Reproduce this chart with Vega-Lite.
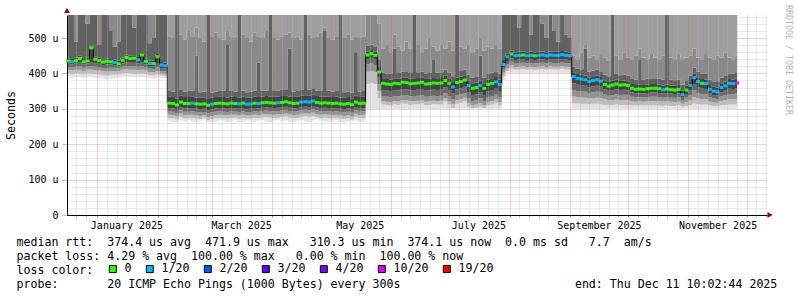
{
"$schema":"https://vega.github.io/schema/vega-lite/v6.json",
"width":700,"height":200,
"autosize":"none",
"padding":{"left":67,"top":15,"right":30,"bottom":82},
"background":"white",
"title":{"text":"RRDTOOL / TOBI OETIKER","orient":"right","anchor":"start","frame":"group","font":"DejaVu Sans Mono","fontSize":8.3,"fontWeight":"normal","color":"#b4b4b4","offset":8,"dx":-10},
"config":{"view":{"stroke":null},
 "axisY":{"zindex":1,"labelFont":"DejaVu Sans Mono","labelFontSize":10,"labelColor":"black","labelPadding":4,"labelOverlap":false,"labelBound":false,
    "grid":true,"gridDash":[1,1],"gridOpacity":0.6,"ticks":true,"tickSize":5,"tickDash":[1,1],
    "domainColor":"black","domainWidth":1,"titleFont":"DejaVu Sans Mono","titleFontSize":11.6,"titleFontWeight":"normal","titleColor":"black"}},
"datasets":{"rtt":[
{"t":"2024-12-17","m":435,"l":"0","e":389,"d":399,"c":409,"b":418,"a":427,"u":443,"v":565,"w":565},
{"t":"2024-12-19","m":433,"l":"1/20","e":388,"d":398,"c":408,"b":417,"a":425,"u":441,"v":565,"w":565},
{"t":"2024-12-21","m":436,"l":"0","e":390,"d":400,"c":410,"b":419,"a":428,"u":444,"v":490,"w":565},
{"t":"2024-12-23","m":442,"l":"0","e":389,"d":399,"c":410,"b":420,"a":430,"u":450,"v":565,"w":565},
{"t":"2024-12-25","m":433,"l":"0","e":387,"d":397,"c":407,"b":416,"a":425,"u":441,"v":565,"w":565},
{"t":"2024-12-27","m":436,"l":"0","e":390,"d":400,"c":410,"b":419,"a":428,"u":444,"v":540,"w":565},
{"t":"2024-12-29","m":472,"l":"0","e":389,"d":399,"c":410,"b":420,"a":430,"u":478,"v":565,"w":565},
{"t":"2024-12-31","m":440,"l":"0","e":388,"d":398,"c":409,"b":419,"a":429,"u":448,"v":565,"w":565},
{"t":"2025-01-02","m":436,"l":"0","e":386,"d":397,"c":408,"b":418,"a":427,"u":444,"v":480,"w":565},
{"t":"2025-01-04","m":432,"l":"0","e":384,"d":395,"c":406,"b":415,"a":424,"u":440,"v":565,"w":565},
{"t":"2025-01-06","m":434,"l":"0","e":383,"d":394,"c":405,"b":415,"a":425,"u":442,"v":565,"w":565},
{"t":"2025-01-08","m":433,"l":"0","e":385,"d":396,"c":406,"b":416,"a":425,"u":441,"v":520,"w":565},
{"t":"2025-01-10","m":431,"l":"1/20","e":387,"d":397,"c":407,"b":416,"a":424,"u":439,"v":475,"w":565},
{"t":"2025-01-12","m":427,"l":"0","e":388,"d":397,"c":406,"b":414,"a":420,"u":436,"v":490,"w":565},
{"t":"2025-01-14","m":437,"l":"0","e":390,"d":400,"c":410,"b":419,"a":428,"u":445,"v":565,"w":565},
{"t":"2025-01-16","m":445,"l":"0","e":391,"d":401,"c":411,"b":421,"a":431,"u":453,"v":565,"w":565},
{"t":"2025-01-18","m":442,"l":"0","e":390,"d":400,"c":410,"b":420,"a":430,"u":450,"v":565,"w":565},
{"t":"2025-01-20","m":443,"l":"0","e":389,"d":399,"c":410,"b":420,"a":430,"u":451,"v":530,"w":565},
{"t":"2025-01-22","m":438,"l":"1/20","e":389,"d":399,"c":409,"b":419,"a":428,"u":446,"v":565,"w":565},
{"t":"2025-01-24","m":452,"l":"0","e":390,"d":400,"c":410,"b":420,"a":430,"u":460,"v":565,"w":565},
{"t":"2025-01-26","m":434,"l":"0","e":388,"d":398,"c":408,"b":417,"a":426,"u":442,"v":565,"w":565},
{"t":"2025-01-28","m":428,"l":"1/20","e":386,"d":395,"c":404,"b":413,"a":421,"u":436,"v":485,"w":565},
{"t":"2025-01-30","m":428,"l":"0","e":385,"d":394,"c":403,"b":412,"a":420,"u":436,"v":500,"w":565},
{"t":"2025-02-01","m":447,"l":"0","e":388,"d":397,"c":407,"b":417,"a":427,"u":455,"v":565,"w":565},
{"t":"2025-02-03","m":424,"l":"1/20","e":388,"d":394,"c":400,"b":407,"a":415,"u":432,"v":565,"w":565},
{"t":"2025-02-05","m":422,"l":"1/20","e":387,"d":393,"c":399,"b":406,"a":414,"u":430,"v":565,"w":565},
{"t":"2025-02-07","m":316,"l":"0","e":266,"d":274,"c":283,"b":293,"a":302,"u":334,"v":350,"w":505},
{"t":"2025-02-09","m":315,"l":"0","e":263,"d":273,"c":282,"b":292,"a":301,"u":333,"v":349,"w":500},
{"t":"2025-02-11","m":311,"l":"0","e":262,"d":270,"c":279,"b":288,"a":297,"u":329,"v":565,"w":565},
{"t":"2025-02-13","m":319,"l":"0","e":267,"d":277,"c":286,"b":296,"a":305,"u":337,"v":353,"w":510},
{"t":"2025-02-15","m":315,"l":"0","e":265,"d":273,"c":282,"b":292,"a":301,"u":333,"v":348,"w":495},
{"t":"2025-02-17","m":315,"l":"0","e":268,"d":274,"c":283,"b":292,"a":301,"u":333,"v":350,"w":520},
{"t":"2025-02-19","m":316,"l":"1/20","e":264,"d":274,"c":283,"b":293,"a":302,"u":334,"v":351,"w":505},
{"t":"2025-02-21","m":314,"l":"0","e":262,"d":272,"c":281,"b":291,"a":300,"u":332,"v":450,"w":530},
{"t":"2025-02-23","m":313,"l":"0","e":266,"d":271,"c":280,"b":290,"a":299,"u":331,"v":347,"w":500},
{"t":"2025-02-25","m":314,"l":"0","e":270,"d":275,"c":282,"b":291,"a":300,"u":332,"v":348,"w":490},
{"t":"2025-02-27","m":310,"l":"0","e":263,"d":268,"c":277,"b":287,"a":296,"u":328,"v":565,"w":565},
{"t":"2025-03-01","m":313,"l":"1/20","e":261,"d":271,"c":280,"b":290,"a":299,"u":331,"v":346,"w":505},
{"t":"2025-03-03","m":315,"l":"0","e":264,"d":273,"c":282,"b":292,"a":301,"u":333,"v":349,"w":515},
{"t":"2025-03-05","m":316,"l":"0","e":268,"d":274,"c":283,"b":293,"a":302,"u":334,"v":350,"w":500},
{"t":"2025-03-07","m":315,"l":"0","e":266,"d":273,"c":282,"b":292,"a":301,"u":333,"v":352,"w":495},
{"t":"2025-03-09","m":314,"l":"0","e":263,"d":272,"c":281,"b":291,"a":300,"u":332,"v":480,"w":520},
{"t":"2025-03-11","m":316,"l":"0","e":265,"d":274,"c":283,"b":293,"a":302,"u":334,"v":350,"w":505},
{"t":"2025-03-13","m":315,"l":"0","e":269,"d":275,"c":283,"b":292,"a":301,"u":333,"v":349,"w":500},
{"t":"2025-03-15","m":314,"l":"1/20","e":262,"d":272,"c":281,"b":291,"a":300,"u":332,"v":565,"w":565},
{"t":"2025-03-17","m":316,"l":"0","e":264,"d":274,"c":283,"b":293,"a":302,"u":334,"v":351,"w":510},
{"t":"2025-03-19","m":313,"l":"1/20","e":267,"d":272,"c":281,"b":290,"a":299,"u":331,"v":347,"w":500},
{"t":"2025-03-21","m":314,"l":"1/20","e":265,"d":272,"c":281,"b":291,"a":300,"u":332,"v":348,"w":490},
{"t":"2025-03-23","m":316,"l":"0","e":263,"d":274,"c":283,"b":293,"a":302,"u":334,"v":352,"w":515},
{"t":"2025-03-25","m":315,"l":"1/20","e":266,"d":273,"c":282,"b":292,"a":301,"u":333,"v":430,"w":505},
{"t":"2025-03-27","m":317,"l":"0","e":268,"d":275,"c":284,"b":294,"a":303,"u":335,"v":351,"w":500},
{"t":"2025-03-29","m":318,"l":"0","e":264,"d":276,"c":285,"b":295,"a":304,"u":336,"v":352,"w":520},
{"t":"2025-03-31","m":317,"l":"0","e":262,"d":275,"c":284,"b":294,"a":303,"u":335,"v":565,"w":565},
{"t":"2025-04-02","m":316,"l":"0","e":266,"d":274,"c":283,"b":293,"a":302,"u":334,"v":350,"w":500},
{"t":"2025-04-04","m":317,"l":"1/20","e":269,"d":275,"c":284,"b":294,"a":303,"u":335,"v":351,"w":495},
{"t":"2025-04-06","m":318,"l":"0","e":265,"d":276,"c":285,"b":295,"a":304,"u":336,"v":353,"w":505},
{"t":"2025-04-08","m":320,"l":"0","e":267,"d":278,"c":287,"b":297,"a":306,"u":338,"v":355,"w":510},
{"t":"2025-04-10","m":317,"l":"0","e":264,"d":275,"c":284,"b":294,"a":303,"u":335,"v":470,"w":515},
{"t":"2025-04-12","m":315,"l":"0","e":262,"d":273,"c":282,"b":292,"a":301,"u":333,"v":349,"w":500},
{"t":"2025-04-14","m":316,"l":"0","e":266,"d":274,"c":283,"b":293,"a":302,"u":334,"v":350,"w":505},
{"t":"2025-04-16","m":319,"l":"1/20","e":268,"d":277,"c":286,"b":296,"a":305,"u":337,"v":353,"w":495},
{"t":"2025-04-18","m":320,"l":"1/20","e":265,"d":278,"c":287,"b":297,"a":306,"u":338,"v":565,"w":565},
{"t":"2025-04-20","m":319,"l":"1/20","e":263,"d":277,"c":286,"b":296,"a":305,"u":337,"v":354,"w":510},
{"t":"2025-04-22","m":322,"l":"1/20","e":267,"d":280,"c":289,"b":299,"a":308,"u":340,"v":356,"w":500},
{"t":"2025-04-24","m":318,"l":"0","e":270,"d":276,"c":285,"b":295,"a":304,"u":336,"v":352,"w":505},
{"t":"2025-04-26","m":316,"l":"0","e":266,"d":274,"c":283,"b":293,"a":302,"u":334,"v":350,"w":515},
{"t":"2025-04-28","m":317,"l":"0","e":264,"d":275,"c":284,"b":294,"a":303,"u":335,"v":520,"w":530},
{"t":"2025-04-30","m":316,"l":"0","e":262,"d":274,"c":283,"b":293,"a":302,"u":334,"v":351,"w":500},
{"t":"2025-05-02","m":315,"l":"0","e":265,"d":273,"c":282,"b":292,"a":301,"u":333,"v":349,"w":495},
{"t":"2025-05-04","m":316,"l":"0","e":268,"d":274,"c":283,"b":293,"a":302,"u":334,"v":350,"w":505},
{"t":"2025-05-06","m":314,"l":"0","e":263,"d":272,"c":281,"b":291,"a":300,"u":332,"v":565,"w":565},
{"t":"2025-05-08","m":313,"l":"0","e":261,"d":271,"c":280,"b":290,"a":299,"u":331,"v":347,"w":500},
{"t":"2025-05-10","m":315,"l":"0","e":264,"d":273,"c":282,"b":292,"a":301,"u":333,"v":349,"w":510},
{"t":"2025-05-12","m":312,"l":"0","e":266,"d":270,"c":279,"b":289,"a":298,"u":330,"v":346,"w":495},
{"t":"2025-05-14","m":319,"l":"0","e":267,"d":277,"c":286,"b":296,"a":305,"u":337,"v":460,"w":505},
{"t":"2025-05-16","m":315,"l":"0","e":263,"d":273,"c":282,"b":292,"a":301,"u":333,"v":349,"w":500},
{"t":"2025-05-18","m":316,"l":"0","e":265,"d":274,"c":283,"b":293,"a":302,"u":334,"v":350,"w":505},
{"t":"2025-05-20","m":452,"l":"0","e":298,"d":370,"c":405,"b":425,"a":440,"u":462,"v":478,"w":565},
{"t":"2025-05-22","m":456,"l":"0","e":299,"d":372,"c":407,"b":428,"a":444,"u":466,"v":482,"w":565},
{"t":"2025-05-24","m":451,"l":"0","e":298,"d":370,"c":404,"b":424,"a":439,"u":461,"v":477,"w":565},
{"t":"2025-05-26","m":404,"l":"0","e":297,"d":330,"c":350,"b":370,"a":388,"u":420,"v":440,"w":540},
{"t":"2025-05-28","m":372,"l":"0","e":298,"d":312,"c":322,"b":336,"a":353,"u":386,"v":402,"w":470},
{"t":"2025-05-30","m":370,"l":"0","e":297,"d":310,"c":320,"b":334,"a":351,"u":384,"v":400,"w":480},
{"t":"2025-06-01","m":369,"l":"0","e":299,"d":309,"c":319,"b":333,"a":350,"u":383,"v":399,"w":460},
{"t":"2025-06-03","m":372,"l":"0","e":298,"d":312,"c":322,"b":336,"a":353,"u":386,"v":470,"w":510},
{"t":"2025-06-05","m":371,"l":"0","e":296,"d":311,"c":321,"b":335,"a":352,"u":385,"v":401,"w":475},
{"t":"2025-06-07","m":375,"l":"0","e":298,"d":315,"c":325,"b":339,"a":356,"u":389,"v":405,"w":465},
{"t":"2025-06-09","m":374,"l":"0","e":300,"d":314,"c":324,"b":338,"a":355,"u":388,"v":404,"w":490},
{"t":"2025-06-11","m":371,"l":"0","e":298,"d":311,"c":321,"b":335,"a":352,"u":385,"v":401,"w":470},
{"t":"2025-06-13","m":372,"l":"0","e":297,"d":312,"c":322,"b":336,"a":353,"u":386,"v":565,"w":565},
{"t":"2025-06-15","m":373,"l":"0","e":299,"d":313,"c":323,"b":337,"a":354,"u":387,"v":403,"w":480},
{"t":"2025-06-17","m":375,"l":"0","e":298,"d":315,"c":325,"b":339,"a":356,"u":389,"v":405,"w":460},
{"t":"2025-06-19","m":370,"l":"0","e":296,"d":310,"c":320,"b":334,"a":351,"u":384,"v":400,"w":470},
{"t":"2025-06-21","m":371,"l":"0","e":298,"d":311,"c":321,"b":335,"a":352,"u":385,"v":401,"w":500},
{"t":"2025-06-23","m":373,"l":"0","e":299,"d":313,"c":323,"b":337,"a":354,"u":387,"v":440,"w":475},
{"t":"2025-06-25","m":372,"l":"0","e":297,"d":312,"c":322,"b":336,"a":353,"u":386,"v":402,"w":465},
{"t":"2025-06-27","m":373,"l":"0","e":298,"d":313,"c":323,"b":337,"a":354,"u":387,"v":403,"w":480},
{"t":"2025-06-29","m":380,"l":"0","e":299,"d":320,"c":330,"b":344,"a":361,"u":394,"v":410,"w":470},
{"t":"2025-07-01","m":372,"l":"0","e":298,"d":312,"c":322,"b":336,"a":353,"u":386,"v":402,"w":490},
{"t":"2025-07-03","m":362,"l":"1/20","e":296,"d":302,"c":312,"b":326,"a":343,"u":376,"v":392,"w":465},
{"t":"2025-07-05","m":374,"l":"0","e":298,"d":314,"c":324,"b":338,"a":355,"u":388,"v":565,"w":565},
{"t":"2025-07-07","m":377,"l":"0","e":299,"d":317,"c":327,"b":341,"a":358,"u":391,"v":407,"w":475},
{"t":"2025-07-09","m":381,"l":"0","e":300,"d":321,"c":331,"b":345,"a":362,"u":395,"v":411,"w":470},
{"t":"2025-07-11","m":366,"l":"1/20","e":298,"d":306,"c":316,"b":330,"a":347,"u":380,"v":396,"w":480},
{"t":"2025-07-13","m":358,"l":"0","e":297,"d":302,"c":310,"b":322,"a":339,"u":372,"v":388,"w":460},
{"t":"2025-07-15","m":360,"l":"0","e":298,"d":303,"c":312,"b":324,"a":341,"u":374,"v":390,"w":470},
{"t":"2025-07-17","m":366,"l":"1/20","e":297,"d":306,"c":316,"b":330,"a":347,"u":380,"v":450,"w":500},
{"t":"2025-07-19","m":358,"l":"0","e":296,"d":302,"c":310,"b":322,"a":339,"u":372,"v":388,"w":465},
{"t":"2025-07-21","m":369,"l":"0","e":298,"d":309,"c":319,"b":333,"a":350,"u":383,"v":399,"w":475},
{"t":"2025-07-23","m":372,"l":"0","e":299,"d":312,"c":322,"b":336,"a":353,"u":386,"v":402,"w":470},
{"t":"2025-07-25","m":376,"l":"1/20","e":298,"d":316,"c":326,"b":340,"a":357,"u":390,"v":406,"w":480},
{"t":"2025-07-27","m":369,"l":"1/20","e":297,"d":309,"c":319,"b":333,"a":350,"u":383,"v":399,"w":470},
{"t":"2025-07-29","m":425,"l":"1/20","e":380,"d":392,"c":402,"b":410,"a":416,"u":440,"v":565,"w":565},
{"t":"2025-07-31","m":447,"l":"1/20","e":401,"d":407,"c":415,"b":425,"a":435,"u":457,"v":565,"w":565},
{"t":"2025-08-02","m":455,"l":"0","e":402,"d":414,"c":423,"b":433,"a":443,"u":465,"v":565,"w":565},
{"t":"2025-08-04","m":450,"l":"1/20","e":400,"d":410,"c":418,"b":428,"a":438,"u":460,"v":565,"w":565},
{"t":"2025-08-06","m":451,"l":"1/20","e":401,"d":411,"c":419,"b":429,"a":439,"u":461,"v":530,"w":565},
{"t":"2025-08-08","m":452,"l":"0","e":402,"d":412,"c":420,"b":430,"a":440,"u":462,"v":565,"w":565},
{"t":"2025-08-10","m":450,"l":"1/20","e":401,"d":410,"c":418,"b":428,"a":438,"u":460,"v":565,"w":565},
{"t":"2025-08-12","m":451,"l":"1/20","e":400,"d":411,"c":419,"b":429,"a":439,"u":461,"v":510,"w":565},
{"t":"2025-08-14","m":450,"l":"0","e":401,"d":410,"c":418,"b":428,"a":438,"u":460,"v":565,"w":565},
{"t":"2025-08-16","m":451,"l":"1/20","e":402,"d":411,"c":419,"b":429,"a":439,"u":461,"v":565,"w":565},
{"t":"2025-08-18","m":452,"l":"1/20","e":401,"d":412,"c":420,"b":430,"a":440,"u":462,"v":540,"w":565},
{"t":"2025-08-20","m":450,"l":"1/20","e":400,"d":410,"c":418,"b":428,"a":438,"u":460,"v":500,"w":565},
{"t":"2025-08-22","m":452,"l":"1/20","e":401,"d":412,"c":420,"b":430,"a":440,"u":462,"v":565,"w":565},
{"t":"2025-08-24","m":451,"l":"1/20","e":402,"d":411,"c":419,"b":429,"a":439,"u":461,"v":520,"w":565},
{"t":"2025-08-26","m":451,"l":"1/20","e":401,"d":411,"c":419,"b":429,"a":439,"u":461,"v":490,"w":565},
{"t":"2025-08-28","m":453,"l":"1/20","e":400,"d":413,"c":421,"b":431,"a":441,"u":463,"v":565,"w":565},
{"t":"2025-08-30","m":451,"l":"1/20","e":401,"d":411,"c":419,"b":429,"a":439,"u":461,"v":510,"w":565},
{"t":"2025-09-01","m":450,"l":"1/20","e":401,"d":410,"c":418,"b":428,"a":438,"u":460,"v":500,"w":565},
{"t":"2025-09-03","m":391,"l":"1/20","e":297,"d":316,"c":335,"b":353,"a":372,"u":403,"v":419,"w":450},
{"t":"2025-09-05","m":386,"l":"1/20","e":298,"d":315,"c":333,"b":350,"a":368,"u":398,"v":414,"w":440},
{"t":"2025-09-07","m":384,"l":"1/20","e":296,"d":314,"c":332,"b":349,"a":367,"u":396,"v":412,"w":460},
{"t":"2025-09-09","m":382,"l":"1/20","e":297,"d":314,"c":331,"b":348,"a":365,"u":394,"v":470,"w":480},
{"t":"2025-09-11","m":377,"l":"1/20","e":298,"d":313,"c":329,"b":345,"a":361,"u":389,"v":405,"w":445},
{"t":"2025-09-13","m":380,"l":"1/20","e":297,"d":314,"c":330,"b":347,"a":363,"u":392,"v":408,"w":450},
{"t":"2025-09-15","m":382,"l":"1/20","e":296,"d":314,"c":331,"b":348,"a":365,"u":394,"v":410,"w":440},
{"t":"2025-09-17","m":378,"l":"1/20","e":298,"d":313,"c":329,"b":346,"a":362,"u":390,"v":406,"w":455},
{"t":"2025-09-19","m":369,"l":"0","e":297,"d":311,"c":326,"b":340,"a":355,"u":381,"v":397,"w":445},
{"t":"2025-09-21","m":364,"l":"0","e":297,"d":310,"c":324,"b":337,"a":351,"u":376,"v":392,"w":435},
{"t":"2025-09-23","m":367,"l":"0","e":298,"d":311,"c":325,"b":339,"a":353,"u":379,"v":565,"w":565},
{"t":"2025-09-25","m":370,"l":"0","e":297,"d":312,"c":326,"b":341,"a":355,"u":382,"v":398,"w":450},
{"t":"2025-09-27","m":367,"l":"0","e":296,"d":311,"c":325,"b":339,"a":353,"u":379,"v":395,"w":440},
{"t":"2025-09-29","m":368,"l":"0","e":297,"d":311,"c":325,"b":340,"a":354,"u":380,"v":396,"w":460},
{"t":"2025-10-01","m":366,"l":"0","e":297,"d":311,"c":325,"b":338,"a":352,"u":378,"v":394,"w":445},
{"t":"2025-10-03","m":358,"l":"0","e":298,"d":309,"c":321,"b":334,"a":346,"u":370,"v":386,"w":440},
{"t":"2025-10-05","m":355,"l":"0","e":297,"d":309,"c":320,"b":332,"a":343,"u":367,"v":383,"w":450},
{"t":"2025-10-07","m":356,"l":"0","e":297,"d":309,"c":321,"b":332,"a":344,"u":368,"v":440,"w":470},
{"t":"2025-10-09","m":355,"l":"0","e":296,"d":309,"c":320,"b":332,"a":343,"u":367,"v":383,"w":445},
{"t":"2025-10-11","m":357,"l":"0","e":297,"d":309,"c":321,"b":333,"a":345,"u":369,"v":385,"w":440},
{"t":"2025-10-13","m":358,"l":"0","e":298,"d":309,"c":321,"b":334,"a":346,"u":370,"v":386,"w":455},
{"t":"2025-10-15","m":358,"l":"0","e":297,"d":309,"c":321,"b":334,"a":346,"u":370,"v":386,"w":445},
{"t":"2025-10-17","m":357,"l":"0","e":297,"d":309,"c":321,"b":333,"a":345,"u":369,"v":385,"w":440},
{"t":"2025-10-19","m":354,"l":"1/20","e":297,"d":308,"c":320,"b":331,"a":343,"u":366,"v":382,"w":450},
{"t":"2025-10-21","m":356,"l":"0","e":298,"d":309,"c":321,"b":332,"a":344,"u":368,"v":565,"w":565},
{"t":"2025-10-23","m":354,"l":"0","e":297,"d":308,"c":320,"b":331,"a":343,"u":366,"v":382,"w":445},
{"t":"2025-10-25","m":353,"l":"0","e":296,"d":308,"c":319,"b":331,"a":342,"u":365,"v":381,"w":440},
{"t":"2025-10-27","m":355,"l":"0","e":297,"d":309,"c":320,"b":332,"a":343,"u":367,"v":383,"w":455},
{"t":"2025-10-29","m":340,"l":"1/20","e":297,"d":306,"c":314,"b":323,"a":331,"u":352,"v":368,"w":440},
{"t":"2025-10-31","m":353,"l":"0","e":297,"d":308,"c":319,"b":331,"a":342,"u":365,"v":381,"w":445},
{"t":"2025-11-02","m":366,"l":"1/20","e":297,"d":311,"c":325,"b":338,"a":352,"u":378,"v":394,"w":450},
{"t":"2025-11-04","m":388,"l":"1/20","e":298,"d":315,"c":333,"b":352,"a":370,"u":400,"v":416,"w":470},
{"t":"2025-11-06","m":377,"l":"1/20","e":297,"d":313,"c":329,"b":345,"a":361,"u":389,"v":405,"w":445},
{"t":"2025-11-08","m":372,"l":"0","e":297,"d":312,"c":327,"b":342,"a":357,"u":384,"v":400,"w":440},
{"t":"2025-11-10","m":371,"l":"1/20","e":296,"d":312,"c":327,"b":341,"a":356,"u":383,"v":399,"w":455},
{"t":"2025-11-12","m":355,"l":"1/20","e":297,"d":309,"c":320,"b":332,"a":343,"u":367,"v":383,"w":445},
{"t":"2025-11-14","m":350,"l":"1/20","e":297,"d":308,"c":318,"b":329,"a":339,"u":362,"v":378,"w":440},
{"t":"2025-11-16","m":348,"l":"1/20","e":297,"d":307,"c":317,"b":328,"a":338,"u":360,"v":376,"w":450},
{"t":"2025-11-18","m":360,"l":"1/20","e":297,"d":310,"c":322,"b":335,"a":347,"u":372,"v":388,"w":445},
{"t":"2025-11-20","m":365,"l":"1/20","e":297,"d":311,"c":324,"b":338,"a":351,"u":377,"v":393,"w":460},
{"t":"2025-11-22","m":372,"l":"1/20","e":298,"d":312,"c":327,"b":342,"a":357,"u":384,"v":400,"w":445},
{"t":"2025-11-24","m":371,"l":"1/20","e":297,"d":312,"c":327,"b":341,"a":356,"u":383,"v":399,"w":440},
{"t":"2025-11-26","m":373,"l":"10/20","e":297,"d":312,"c":327,"b":343,"a":358,"u":385,"v":401,"w":450}
]},
"data":{"name":"rtt"},
"encoding":{
 "x":{"field":"t","type":"temporal",
  "scale":{"type":"utc","nice":false,"domain":[{"year":2024,"month":12,"date":16,"hours":10,"minutes":2,"utc":true},{"year":2025,"month":12,"date":11,"hours":10,"minutes":2,"utc":true}]},
  "axis":{"orient":"bottom","zindex":1,
   "values":[
    {"year":2024,"month":12,"date":21,"utc":true},{"year":2024,"month":12,"date":26,"utc":true},
    {"year":2025,"month":1,"date":1,"utc":true},{"year":2025,"month":1,"date":6,"utc":true},{"year":2025,"month":1,"date":11,"utc":true},{"year":2025,"month":1,"date":16,"utc":true},{"year":2025,"month":1,"date":21,"utc":true},{"year":2025,"month":1,"date":26,"utc":true},
    {"year":2025,"month":2,"date":1,"utc":true},{"year":2025,"month":2,"date":6,"utc":true},{"year":2025,"month":2,"date":11,"utc":true},{"year":2025,"month":2,"date":16,"utc":true},{"year":2025,"month":2,"date":21,"utc":true},{"year":2025,"month":2,"date":26,"utc":true},
    {"year":2025,"month":3,"date":1,"utc":true},{"year":2025,"month":3,"date":6,"utc":true},{"year":2025,"month":3,"date":11,"utc":true},{"year":2025,"month":3,"date":16,"utc":true},{"year":2025,"month":3,"date":21,"utc":true},{"year":2025,"month":3,"date":26,"utc":true},
    {"year":2025,"month":4,"date":1,"utc":true},{"year":2025,"month":4,"date":6,"utc":true},{"year":2025,"month":4,"date":11,"utc":true},{"year":2025,"month":4,"date":16,"utc":true},{"year":2025,"month":4,"date":21,"utc":true},{"year":2025,"month":4,"date":26,"utc":true},
    {"year":2025,"month":5,"date":1,"utc":true},{"year":2025,"month":5,"date":6,"utc":true},{"year":2025,"month":5,"date":11,"utc":true},{"year":2025,"month":5,"date":16,"utc":true},{"year":2025,"month":5,"date":21,"utc":true},{"year":2025,"month":5,"date":26,"utc":true},
    {"year":2025,"month":6,"date":1,"utc":true},{"year":2025,"month":6,"date":6,"utc":true},{"year":2025,"month":6,"date":11,"utc":true},{"year":2025,"month":6,"date":16,"utc":true},{"year":2025,"month":6,"date":21,"utc":true},{"year":2025,"month":6,"date":26,"utc":true},
    {"year":2025,"month":7,"date":1,"utc":true},{"year":2025,"month":7,"date":6,"utc":true},{"year":2025,"month":7,"date":11,"utc":true},{"year":2025,"month":7,"date":16,"utc":true},{"year":2025,"month":7,"date":21,"utc":true},{"year":2025,"month":7,"date":26,"utc":true},
    {"year":2025,"month":8,"date":1,"utc":true},{"year":2025,"month":8,"date":6,"utc":true},{"year":2025,"month":8,"date":11,"utc":true},{"year":2025,"month":8,"date":16,"utc":true},{"year":2025,"month":8,"date":21,"utc":true},{"year":2025,"month":8,"date":26,"utc":true},
    {"year":2025,"month":9,"date":1,"utc":true},{"year":2025,"month":9,"date":6,"utc":true},{"year":2025,"month":9,"date":11,"utc":true},{"year":2025,"month":9,"date":16,"utc":true},{"year":2025,"month":9,"date":21,"utc":true},{"year":2025,"month":9,"date":26,"utc":true},
    {"year":2025,"month":10,"date":1,"utc":true},{"year":2025,"month":10,"date":6,"utc":true},{"year":2025,"month":10,"date":11,"utc":true},{"year":2025,"month":10,"date":16,"utc":true},{"year":2025,"month":10,"date":21,"utc":true},{"year":2025,"month":10,"date":26,"utc":true},
    {"year":2025,"month":11,"date":1,"utc":true},{"year":2025,"month":11,"date":6,"utc":true},{"year":2025,"month":11,"date":11,"utc":true},{"year":2025,"month":11,"date":16,"utc":true},{"year":2025,"month":11,"date":21,"utc":true},{"year":2025,"month":11,"date":26,"utc":true},
    {"year":2025,"month":12,"date":1,"utc":true},{"year":2025,"month":12,"date":6,"utc":true},{"year":2025,"month":12,"date":11,"utc":true}
   ],
   "labelExpr":"utcdate(datum.value) == 16 && utcmonth(datum.value) % 2 == 0 ? utcFormat(datum.value, '%B %Y') : ''",
   "labelFont":"DejaVu Sans Mono","labelFontSize":10,"labelColor":"black","labelPadding":3,"labelOverlap":false,"labelFlush":false,"labelBound":false,
   "grid":true,"gridDash":[1,1],"gridOpacity":0.6,
   "gridColor":{"condition":{"test":"utcdate(datum.value) == 1","value":"#e06060"},"value":"#b8b8b8"},
   "ticks":true,"tickSize":2,
   "tickColor":{"condition":{"test":"utcdate(datum.value) == 1","value":"#e06060"},"value":"#b8b8b8"},
   "domainColor":"black","domainWidth":1,
   "title":[
    "median\u00a0rtt:\u00a0\u00a0374.4\u00a0us\u00a0avg\u00a0\u00a0471.9\u00a0us\u00a0max\u00a0\u00a0\u00a0310.3\u00a0us\u00a0min\u00a0\u00a0374.1\u00a0us\u00a0now\u00a0\u00a00.0\u00a0ms\u00a0sd\u00a0\u00a0\u00a07.7\u00a0\u00a0am/s",
    "packet\u00a0loss:\u00a04.29\u00a0%\u00a0avg\u00a0\u00a0100.00\u00a0%\u00a0max\u00a0\u00a0\u00a00.00\u00a0%\u00a0min\u00a0\u00a0100.00\u00a0%\u00a0now",
    "loss\u00a0color:",
    "probe:\u00a0\u00a0\u00a0\u00a0\u00a0\u00a0\u00a020\u00a0ICMP\u00a0Echo\u00a0Pings\u00a0(1000\u00a0Bytes)\u00a0every\u00a0300s\u00a0\u00a0\u00a0\u00a0\u00a0\u00a0\u00a0\u00a0\u00a0\u00a0\u00a0\u00a0\u00a0\u00a0\u00a0\u00a0\u00a0\u00a0\u00a0\u00a0\u00a0\u00a0\u00a0\u00a0\u00a0end:\u00a0Thu\u00a0Dec\u00a011\u00a010:02:44\u00a02025"
   ],
   "titleX":-51,"titleY":30,"titleAlign":"left","titleAnchor":"start","titleBaseline":"alphabetic","titleAngle":0,
   "titleFont":"DejaVu Sans Mono","titleFontSize":11.6,"titleFontWeight":"normal","titleColor":"black","titleLineHeight":14,"titleLimit":2000
  }
 }
},
"layer":[
 {"mark":{"type":"area","interpolate":"step","color":"#e3e3e3"},
  "encoding":{"y":{"field":"e","type":"quantitative","scale":{"domain":[0,565],"nice":false},"axis":{"values":[0,20,40,60,80,100,120,140,160,180,200,220,240,260,280,300,320,340,360,380,400,420,440,460,480,500,520,540,560],"labelExpr":"datum.value % 100 == 0 ? (datum.value == 0 ? '0\u00a0\u00a0' : datum.value + ' u') : ''","gridColor":{"condition":{"test":"datum.value % 100 == 0","value":"#e06060"},"value":"#b8b8b8"},"tickColor":{"condition":{"test":"datum.value % 100 == 0","value":"#e06060"},"value":"#ffffff"},"title":"Seconds","titleX":-56,"titleY":100,"titleAlign":"center","titleBaseline":"middle"}},"y2":{"field":"d"}}},
 {"mark":{"type":"area","interpolate":"step","color":"#bdbdbd"},
  "encoding":{"y":{"field":"d","type":"quantitative","scale":{"domain":[0,565],"nice":false},"axis":{"values":[0,20,40,60,80,100,120,140,160,180,200,220,240,260,280,300,320,340,360,380,400,420,440,460,480,500,520,540,560],"labelExpr":"datum.value % 100 == 0 ? (datum.value == 0 ? '0\u00a0\u00a0' : datum.value + ' u') : ''","gridColor":{"condition":{"test":"datum.value % 100 == 0","value":"#e06060"},"value":"#b8b8b8"},"tickColor":{"condition":{"test":"datum.value % 100 == 0","value":"#e06060"},"value":"#ffffff"},"title":"Seconds","titleX":-56,"titleY":100,"titleAlign":"center","titleBaseline":"middle"}},"y2":{"field":"c"}}},
 {"mark":{"type":"area","interpolate":"step","color":"#939393"},
  "encoding":{"y":{"field":"c","type":"quantitative","scale":{"domain":[0,565],"nice":false},"axis":{"values":[0,20,40,60,80,100,120,140,160,180,200,220,240,260,280,300,320,340,360,380,400,420,440,460,480,500,520,540,560],"labelExpr":"datum.value % 100 == 0 ? (datum.value == 0 ? '0\u00a0\u00a0' : datum.value + ' u') : ''","gridColor":{"condition":{"test":"datum.value % 100 == 0","value":"#e06060"},"value":"#b8b8b8"},"tickColor":{"condition":{"test":"datum.value % 100 == 0","value":"#e06060"},"value":"#ffffff"},"title":"Seconds","titleX":-56,"titleY":100,"titleAlign":"center","titleBaseline":"middle"}},"y2":{"field":"b"}}},
 {"mark":{"type":"area","interpolate":"step","color":"#6a6a6a"},
  "encoding":{"y":{"field":"b","type":"quantitative","scale":{"domain":[0,565],"nice":false},"axis":{"values":[0,20,40,60,80,100,120,140,160,180,200,220,240,260,280,300,320,340,360,380,400,420,440,460,480,500,520,540,560],"labelExpr":"datum.value % 100 == 0 ? (datum.value == 0 ? '0\u00a0\u00a0' : datum.value + ' u') : ''","gridColor":{"condition":{"test":"datum.value % 100 == 0","value":"#e06060"},"value":"#b8b8b8"},"tickColor":{"condition":{"test":"datum.value % 100 == 0","value":"#e06060"},"value":"#ffffff"},"title":"Seconds","titleX":-56,"titleY":100,"titleAlign":"center","titleBaseline":"middle"}},"y2":{"field":"a"}}},
 {"mark":{"type":"area","interpolate":"step","color":"#454545"},
  "encoding":{"y":{"field":"a","type":"quantitative","scale":{"domain":[0,565],"nice":false},"axis":{"values":[0,20,40,60,80,100,120,140,160,180,200,220,240,260,280,300,320,340,360,380,400,420,440,460,480,500,520,540,560],"labelExpr":"datum.value % 100 == 0 ? (datum.value == 0 ? '0\u00a0\u00a0' : datum.value + ' u') : ''","gridColor":{"condition":{"test":"datum.value % 100 == 0","value":"#e06060"},"value":"#b8b8b8"},"tickColor":{"condition":{"test":"datum.value % 100 == 0","value":"#e06060"},"value":"#ffffff"},"title":"Seconds","titleX":-56,"titleY":100,"titleAlign":"center","titleBaseline":"middle"}},"y2":{"field":"u"}}},
 {"mark":{"type":"area","interpolate":"step","color":"#626262"},
  "encoding":{"y":{"field":"u","type":"quantitative","scale":{"domain":[0,565],"nice":false},"axis":{"values":[0,20,40,60,80,100,120,140,160,180,200,220,240,260,280,300,320,340,360,380,400,420,440,460,480,500,520,540,560],"labelExpr":"datum.value % 100 == 0 ? (datum.value == 0 ? '0\u00a0\u00a0' : datum.value + ' u') : ''","gridColor":{"condition":{"test":"datum.value % 100 == 0","value":"#e06060"},"value":"#b8b8b8"},"tickColor":{"condition":{"test":"datum.value % 100 == 0","value":"#e06060"},"value":"#ffffff"},"title":"Seconds","titleX":-56,"titleY":100,"titleAlign":"center","titleBaseline":"middle"}},"y2":{"field":"v"}}},
 {"mark":{"type":"area","interpolate":"step","color":"#8a8a8a"},
  "encoding":{"y":{"field":"v","type":"quantitative","scale":{"domain":[0,565],"nice":false},"axis":{"values":[0,20,40,60,80,100,120,140,160,180,200,220,240,260,280,300,320,340,360,380,400,420,440,460,480,500,520,540,560],"labelExpr":"datum.value % 100 == 0 ? (datum.value == 0 ? '0\u00a0\u00a0' : datum.value + ' u') : ''","gridColor":{"condition":{"test":"datum.value % 100 == 0","value":"#e06060"},"value":"#b8b8b8"},"tickColor":{"condition":{"test":"datum.value % 100 == 0","value":"#e06060"},"value":"#ffffff"},"title":"Seconds","titleX":-56,"titleY":100,"titleAlign":"center","titleBaseline":"middle"}},"y2":{"field":"w"}}},
 {"mark":{"type":"area","interpolate":"step","color":"#9e9e9e"},
  "encoding":{"y":{"field":"w","type":"quantitative","scale":{"domain":[0,565],"nice":false},"axis":{"values":[0,20,40,60,80,100,120,140,160,180,200,220,240,260,280,300,320,340,360,380,400,420,440,460,480,500,520,540,560],"labelExpr":"datum.value % 100 == 0 ? (datum.value == 0 ? '0\u00a0\u00a0' : datum.value + ' u') : ''","gridColor":{"condition":{"test":"datum.value % 100 == 0","value":"#e06060"},"value":"#b8b8b8"},"tickColor":{"condition":{"test":"datum.value % 100 == 0","value":"#e06060"},"value":"#ffffff"},"title":"Seconds","titleX":-56,"titleY":100,"titleAlign":"center","titleBaseline":"middle"}},"y2":{"datum":565}}},
 {"mark":{"type":"line","interpolate":"step","color":"black","strokeWidth":1},
  "encoding":{"y":{"field":"m","type":"quantitative","scale":{"domain":[0,565],"nice":false},"axis":{"values":[0,20,40,60,80,100,120,140,160,180,200,220,240,260,280,300,320,340,360,380,400,420,440,460,480,500,520,540,560],"labelExpr":"datum.value % 100 == 0 ? (datum.value == 0 ? '0\u00a0\u00a0' : datum.value + ' u') : ''","gridColor":{"condition":{"test":"datum.value % 100 == 0","value":"#e06060"},"value":"#b8b8b8"},"tickColor":{"condition":{"test":"datum.value % 100 == 0","value":"#e06060"},"value":"#ffffff"},"title":"Seconds","titleX":-56,"titleY":100,"titleAlign":"center","titleBaseline":"middle"}}}},
 {"mark":{"type":"tick","orient":"horizontal","size":4.2,"thickness":3,"opacity":1},
  "encoding":{"y":{"field":"m","type":"quantitative","scale":{"domain":[0,565],"nice":false},"axis":{"values":[0,20,40,60,80,100,120,140,160,180,200,220,240,260,280,300,320,340,360,380,400,420,440,460,480,500,520,540,560],"labelExpr":"datum.value % 100 == 0 ? (datum.value == 0 ? '0\u00a0\u00a0' : datum.value + ' u') : ''","gridColor":{"condition":{"test":"datum.value % 100 == 0","value":"#e06060"},"value":"#b8b8b8"},"tickColor":{"condition":{"test":"datum.value % 100 == 0","value":"#e06060"},"value":"#ffffff"},"title":"Seconds","titleX":-56,"titleY":100,"titleAlign":"center","titleBaseline":"middle"}},
   "color":{"field":"l","type":"nominal",
    "scale":{"domain":["0","1/20","2/20","3/20","4/20","10/20","19/20"],"range":["#26ff00","#00b8ff","#0059ff","#5e00ff","#7e00ff","#dd00ff","#ff0000"]},
    "legend":{"orient":"none","legendX":40,"legendY":248,"direction":"horizontal","title":null,"symbolType":"square","symbolSize":49,"symbolStrokeColor":"black","symbolStrokeWidth":1,"symbolOpacity":1,"labelFont":"DejaVu Sans Mono","labelFontSize":11.6,"labelColor":"black","labelOffset":6,"columnPadding":12,"padding":0}}}},
 {"data":{"values":[{"t":"2025-12-13","v":0}]},
  "mark":{"type":"point","shape":"triangle-right","size":36,"filled":true,"color":"#8b1010","opacity":1},
  "encoding":{"y":{"field":"v","type":"quantitative","scale":{"domain":[0,565],"nice":false},"axis":{"values":[0,20,40,60,80,100,120,140,160,180,200,220,240,260,280,300,320,340,360,380,400,420,440,460,480,500,520,540,560],"labelExpr":"datum.value % 100 == 0 ? (datum.value == 0 ? '0\u00a0\u00a0' : datum.value + ' u') : ''","gridColor":{"condition":{"test":"datum.value % 100 == 0","value":"#e06060"},"value":"#b8b8b8"},"tickColor":{"condition":{"test":"datum.value % 100 == 0","value":"#e06060"},"value":"#ffffff"},"title":"Seconds","titleX":-56,"titleY":100,"titleAlign":"center","titleBaseline":"middle"}}}},
 {"data":{"values":[{"t":"2024-12-16T10:02:00Z","v":578}]},
  "mark":{"type":"point","shape":"triangle-up","size":36,"filled":true,"color":"#8b1010","opacity":1},
  "encoding":{"y":{"field":"v","type":"quantitative","scale":{"domain":[0,565],"nice":false},"axis":{"values":[0,20,40,60,80,100,120,140,160,180,200,220,240,260,280,300,320,340,360,380,400,420,440,460,480,500,520,540,560],"labelExpr":"datum.value % 100 == 0 ? (datum.value == 0 ? '0\u00a0\u00a0' : datum.value + ' u') : ''","gridColor":{"condition":{"test":"datum.value % 100 == 0","value":"#e06060"},"value":"#b8b8b8"},"tickColor":{"condition":{"test":"datum.value % 100 == 0","value":"#e06060"},"value":"#ffffff"},"title":"Seconds","titleX":-56,"titleY":100,"titleAlign":"center","titleBaseline":"middle"}}}}
]
}
